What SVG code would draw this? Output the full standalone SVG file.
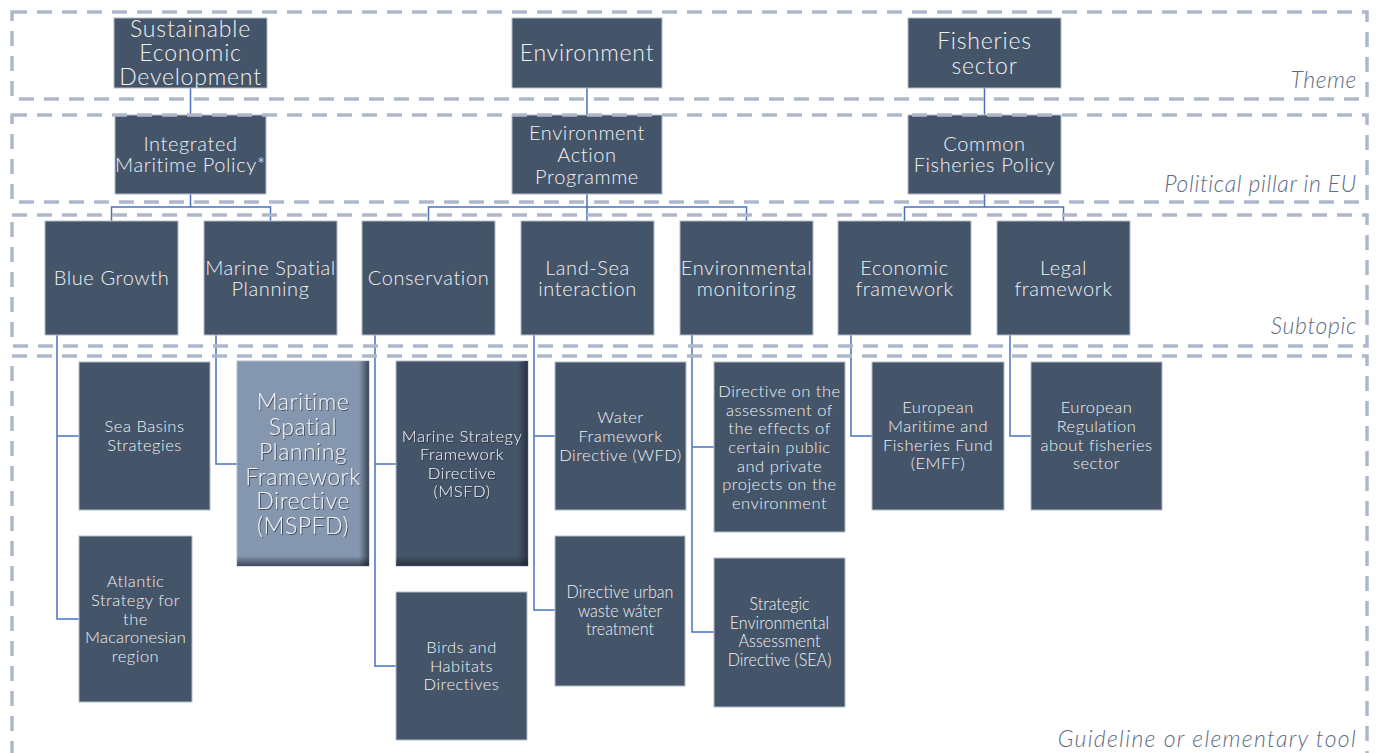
<svg xmlns="http://www.w3.org/2000/svg" width="1378" height="753" viewBox="0 0 1378 753">
<style>
.box{fill:#445469;stroke:#b4bccb;stroke-width:1}
.t{font-family:Lato,"Noto Sans",sans-serif;font-weight:300;fill:#f2f2f2;text-anchor:middle}
.t1{font-size:23px;letter-spacing:0.8px}
.t2{font-size:20px;letter-spacing:0.6px}
.t4{font-size:16.5px;letter-spacing:0.5px}
.t5{font-size:23px;letter-spacing:0.5px}
.tn{font-family:Lato,"Noto Sans",sans-serif;font-weight:300;font-size:17.5px;fill:#f2f2f2;text-anchor:middle}
.band{fill:none;stroke:#afb8ca;stroke-width:3.5;stroke-dasharray:15 10}
.lbl{font-family:Lato,"Noto Sans",sans-serif;font-weight:300;font-style:italic;font-size:23px;letter-spacing:0.6px;fill:#5e6c84;text-anchor:end}
.con{fill:none;stroke:#4a72c0;stroke-width:1.5}
</style>
<defs>
<linearGradient id="gr" x1="0" y1="0" x2="1" y2="0">
<stop offset="0" stop-color="#1c2230" stop-opacity="0"/>
<stop offset="1" stop-color="#1c2230" stop-opacity="0.7"/>
</linearGradient>
<linearGradient id="gb" x1="0" y1="0" x2="0" y2="1">
<stop offset="0" stop-color="#1c2230" stop-opacity="0"/>
<stop offset="1" stop-color="#1c2230" stop-opacity="0.7"/>
</linearGradient>
<filter id="sh" x="-10%" y="-10%" width="120%" height="120%">
<feDropShadow dx="1" dy="1" stdDeviation="0.6" flood-color="#1a2030" flood-opacity="0.6"/>
</filter>
</defs>

<g id="connectors">
<path class="con" d="M190.5,88V115M587,88V115M984.5,88V115"/>
<path class="con" d="M190.5,194V207M111.5,221V207H270.5V221"/>
<path class="con" d="M587,194V221M428.5,221V207H746.5V221"/>
<path class="con" d="M984.5,194V207M904.5,221V207H1063.5V221"/>
<path class="con" d="M57,335V619H79M57,436H79"/>
<path class="con" d="M216,335V464H237"/>
<path class="con" d="M375,335V666H396M375,464H396"/>
<path class="con" d="M534,335V610H555M534,436H555"/>
<path class="con" d="M692,335V632H714M692,447H714"/>
<path class="con" d="M851,335V436H872"/>
<path class="con" d="M1010,335V436H1031"/>
</g>

<g id="n-sed"><rect class="box" x="114" y="18" width="153" height="70"/>
<text class="t t1" x="190.5" y="37">Sustainable</text><text class="t t1" x="190.5" y="61">Economic</text><text class="t t1" x="190.5" y="85">Development</text></g>
<g id="n-env"><rect class="box" x="512" y="18" width="150" height="70"/>
<text class="t t1" x="587" y="61">Environment</text></g>
<g id="n-fish"><rect class="box" x="908" y="18" width="153" height="70"/>
<text class="t t1" x="984.5" y="49">Fisheries</text><text class="t t1" x="984.5" y="74">sector</text></g>

<g id="n-imp"><rect class="box" x="115" y="115" width="151" height="79"/>
<text class="t t2" x="190.5" y="151">Integrated</text><text class="t t2" x="190.5" y="172">Maritime Policy*</text></g>
<g id="n-eap"><rect class="box" x="512" y="115" width="150" height="79"/>
<text class="t t2" x="587" y="140">Environment</text><text class="t t2" x="587" y="162">Action</text><text class="t t2" x="587" y="184">Programme</text></g>
<g id="n-cfp"><rect class="box" x="908" y="115" width="153" height="79"/>
<text class="t t2" x="984.5" y="151">Common</text><text class="t t2" x="984.5" y="172">Fisheries Policy</text></g>

<g id="n-bg"><rect class="box" x="45" y="221" width="133" height="114"/>
<text class="t t2" x="111.5" y="285">Blue Growth</text></g>
<g id="n-msp"><rect class="box" x="204" y="221" width="133" height="114"/>
<text class="t t2" x="270.5" y="275">Marine Spatial</text><text class="t t2" x="270.5" y="296">Planning</text></g>
<g id="n-cons"><rect class="box" x="362" y="221" width="133" height="114"/>
<text class="t t2" x="428.5" y="285">Conservation</text></g>
<g id="n-lsi"><rect class="box" x="521" y="221" width="133" height="114"/>
<text class="t t2" x="587.5" y="275">Land-Sea</text><text class="t t2" x="587.5" y="296">interaction</text></g>
<g id="n-em"><rect class="box" x="680" y="221" width="133" height="114"/>
<text class="t t2" x="746.5" y="275">Environmental</text><text class="t t2" x="746.5" y="296">monitoring</text></g>
<g id="n-ef"><rect class="box" x="838" y="221" width="133" height="114"/>
<text class="t t2" x="904.5" y="275">Economic</text><text class="t t2" x="904.5" y="296">framework</text></g>
<g id="n-lf"><rect class="box" x="997" y="221" width="133" height="114"/>
<text class="t t2" x="1063.5" y="275">Legal</text><text class="t t2" x="1063.5" y="296">framework</text></g>

<g id="n-sbs"><rect class="box" x="79" y="362" width="131" height="148"/>
<text class="t t4" x="144.5" y="432">Sea Basins</text><text class="t t4" x="144.5" y="451">Strategies</text></g>
<g id="n-asm"><rect class="box" x="79" y="536" width="113" height="166"/>
<text class="t t4" x="135.5" y="587">Atlantic</text><text class="t t4" x="135.5" y="606">Strategy for</text><text class="t t4" x="135.5" y="625">the</text><text class="t t4" x="135.5" y="643" style="letter-spacing:0.2px">Macaronesian</text><text class="t t4" x="135.5" y="662">region</text></g>
<g id="n-mspfd"><rect x="237" y="361" width="132" height="205" fill="#8497af" stroke="#b4bccb" stroke-width="1"/>
<rect x="359" y="361" width="10" height="205" fill="url(#gr)"/>
<rect x="237" y="556" width="132" height="10" fill="url(#gb)"/>
<g filter="url(#sh)"><text class="t t5" x="303" y="410">Maritime</text><text class="t t5" x="303" y="435">Spatial</text><text class="t t5" x="303" y="460">Planning</text><text class="t t5" x="303" y="485">Framework</text><text class="t t5" x="303" y="509">Directive</text><text class="t t5" x="303" y="534">(MSPFD)</text></g></g>
<g id="n-msfd"><rect class="box" x="396" y="361" width="132" height="205"/>
<rect x="518" y="361" width="10" height="205" fill="url(#gr)"/>
<rect x="396" y="556" width="132" height="10" fill="url(#gb)"/>
<g filter="url(#sh)"><text class="t t4" x="462" y="442">Marine Strategy</text><text class="t t4" x="462" y="460">Framework</text><text class="t t4" x="462" y="479">Directive</text><text class="t t4" x="462" y="497">(MSFD)</text></g></g>
<g id="n-bhd"><rect class="box" x="396" y="592" width="131" height="148"/>
<text class="t t4" x="461.5" y="653">Birds and</text><text class="t t4" x="461.5" y="672">Habitats</text><text class="t t4" x="461.5" y="690">Directives</text></g>
<g id="n-wfd"><rect class="box" x="555" y="362" width="131" height="148"/>
<text class="t t4" x="620.5" y="423">Water</text><text class="t t4" x="620.5" y="442">Framework</text><text class="t t4" x="620.5" y="461">Directive (WFD)</text></g>
<g id="n-uwwt"><rect class="box" x="555" y="536" width="130" height="150"/>
<g transform="translate(620 0) scale(0.92 1)"><text class="tn" x="0" y="598">Directive urban</text><text class="tn" x="0" y="617">waste wáter</text><text class="tn" x="0" y="635">treatment</text></g></g>
<g id="n-eia"><rect class="box" x="714" y="362" width="131" height="170"/>
<text class="t t4" x="779.5" y="397">Directive on the</text><text class="t t4" x="779.5" y="416">assessment of</text><text class="t t4" x="779.5" y="434">the effects of</text><text class="t t4" x="779.5" y="453">certain public</text><text class="t t4" x="779.5" y="472">and private</text><text class="t t4" x="779.5" y="490">projects on the</text><text class="t t4" x="779.5" y="509">environment</text></g>
<g id="n-sea"><rect class="box" x="714" y="558" width="131" height="149"/>
<g transform="translate(779.5 0) scale(0.92 1)"><text class="tn" x="0" y="610">Strategic</text><text class="tn" x="0" y="629">Environmental</text><text class="tn" x="0" y="647">Assessment</text><text class="tn" x="0" y="666">Directive (SEA)</text></g></g>
<g id="n-emff"><rect class="box" x="872" y="362" width="132" height="148"/>
<text class="t t4" x="938" y="413">European</text><text class="t t4" x="938" y="432">Maritime and</text><text class="t t4" x="938" y="451">Fisheries Fund</text><text class="t t4" x="938" y="469">(EMFF)</text></g>
<g id="n-erf"><rect class="box" x="1031" y="362" width="131" height="148"/>
<text class="t t4" x="1096.5" y="413">European</text><text class="t t4" x="1096.5" y="432">Regulation</text><text class="t t4" x="1096.5" y="451">about fisheries</text><text class="t t4" x="1096.5" y="469">sector</text></g>

<g id="bands">
<rect class="band" x="12" y="12" width="1355" height="87"/>
<rect class="band" x="12" y="115" width="1355" height="87"/>
<rect class="band" x="12" y="215" width="1355" height="131"/>
<rect class="band" x="12" y="356" width="1355" height="420"/>
<text class="lbl" x="1357" y="88">Theme</text>
<text class="lbl" x="1357" y="192">Political pillar in EU</text>
<text class="lbl" x="1357" y="334">Subtopic</text>
<text class="lbl" x="1357" y="747" style="letter-spacing:1.3px">Guideline or elementary tool</text>
</g>
</svg>
